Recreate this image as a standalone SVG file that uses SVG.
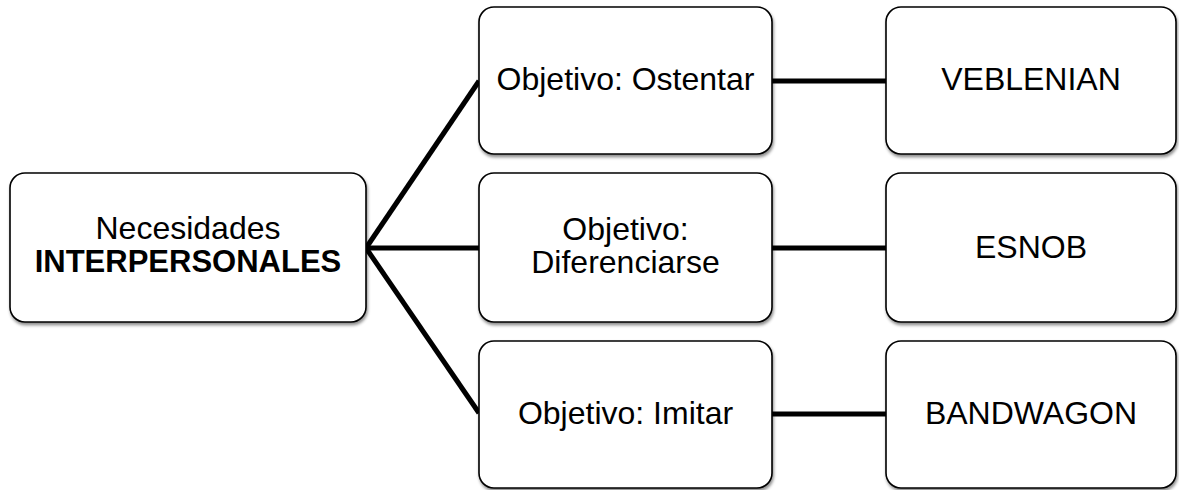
<svg xmlns="http://www.w3.org/2000/svg" width="1179" height="490" viewBox="0 0 1179 490">
  <defs>
    <filter id="shadow" x="-5%" y="-5%" width="110%" height="115%">
      <feDropShadow dx="1" dy="2.5" stdDeviation="1.5" flood-color="#000" flood-opacity="0.45"/>
    </filter>
    <style>
      .box { fill: #fff; stroke: #000; stroke-width: 1.6; filter: url(#shadow); }
      .lbl { font-family: "Liberation Sans", Arial, sans-serif; font-size: 32px; fill: #000; text-anchor: middle; }
      .bold { font-weight: bold; font-size: 31px; }
      .link { stroke: #000; stroke-width: 5; fill: none; }
    </style>
  </defs>
  <rect width="1179" height="490" fill="#fff"/>

  <g id="connectors">
    <line class="link" x1="366" y1="248" x2="479" y2="81"/>
    <line class="link" x1="366" y1="248" x2="479" y2="248"/>
    <line class="link" x1="366" y1="248" x2="479" y2="413"/>
    <line class="link" x1="772" y1="81" x2="886" y2="81"/>
    <line class="link" x1="772" y1="248" x2="886" y2="248"/>
    <line class="link" x1="772" y1="414" x2="886" y2="414"/>
  </g>

  <g id="node-necesidades">
    <rect class="box" x="10" y="173" width="356" height="149" rx="15"/>
    <text class="lbl" x="188" y="239">Necesidades</text>
    <text class="lbl bold" x="188" y="272">INTERPERSONALES</text>
  </g>

  <g id="node-ostentar">
    <rect class="box" x="479" y="7" width="293" height="147" rx="15"/>
    <text class="lbl" x="625.5" y="90">Objetivo: Ostentar</text>
  </g>

  <g id="node-diferenciarse">
    <rect class="box" x="479" y="173" width="293" height="149" rx="15"/>
    <text class="lbl" x="625.5" y="240">Objetivo:</text>
    <text class="lbl" x="625.5" y="273">Diferenciarse</text>
  </g>

  <g id="node-imitar">
    <rect class="box" x="479" y="341" width="293" height="147" rx="15"/>
    <text class="lbl" x="625.5" y="424">Objetivo: Imitar</text>
  </g>

  <g id="node-veblenian">
    <rect class="box" x="886" y="7" width="290" height="147" rx="15"/>
    <text class="lbl" x="1031" y="90">VEBLENIAN</text>
  </g>

  <g id="node-esnob">
    <rect class="box" x="886" y="173" width="290" height="149" rx="15"/>
    <text class="lbl" x="1031" y="258">ESNOB</text>
  </g>

  <g id="node-bandwagon">
    <rect class="box" x="886" y="341" width="290" height="147" rx="15"/>
    <text class="lbl" x="1031" y="424">BANDWAGON</text>
  </g>
</svg>
